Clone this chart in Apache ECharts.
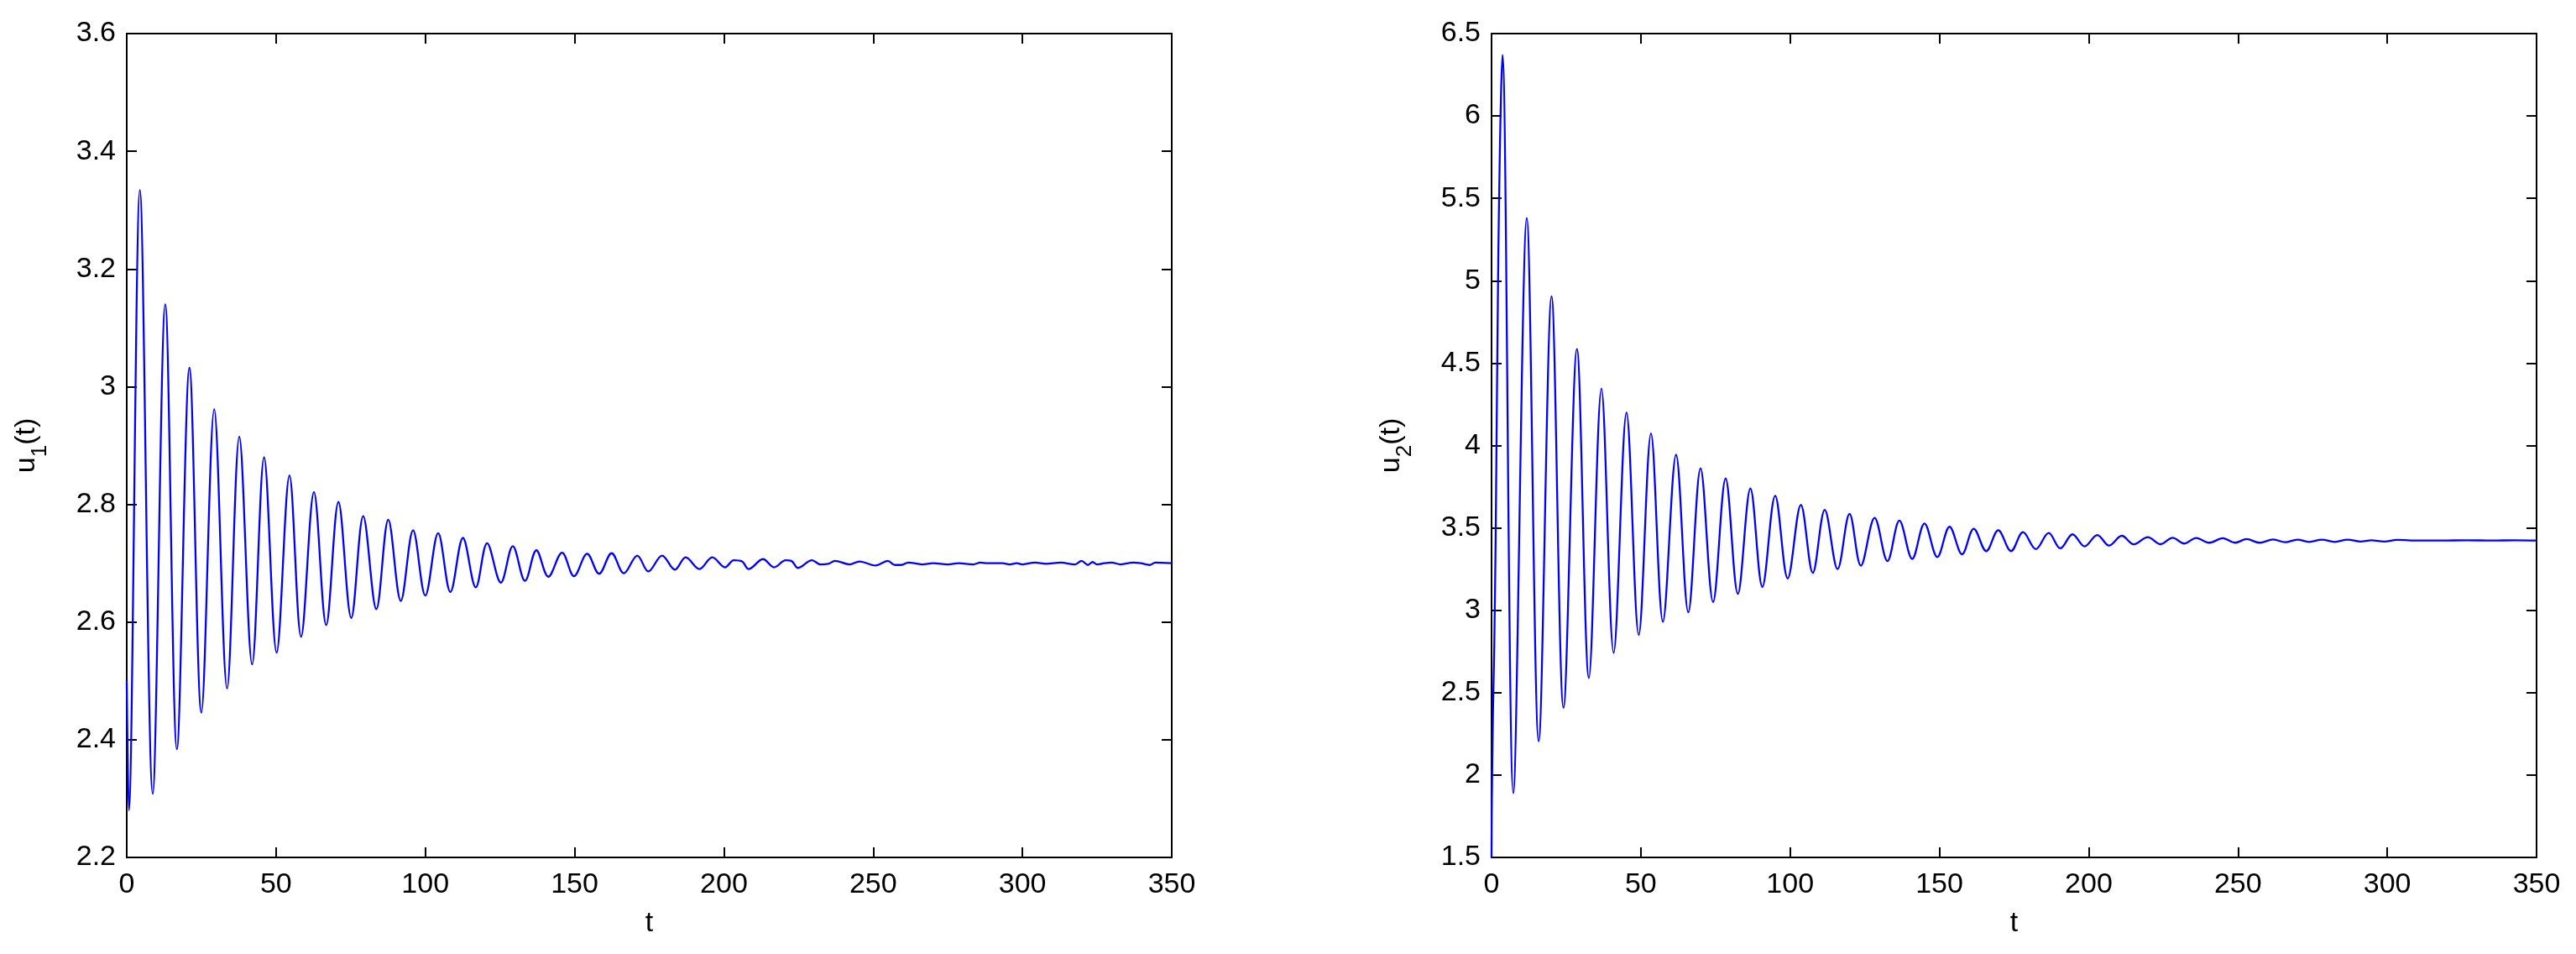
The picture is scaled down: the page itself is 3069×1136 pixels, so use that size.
<!DOCTYPE html>
<html>
<head>
<meta charset="utf-8">
<title>u1(t) / u2(t)</title>
<script src="https://cdn.jsdelivr.net/npm/echarts/dist/echarts.min.js"></script>
<style>
    html, body { margin: 0; padding: 0; background: #fff; }
    #main { width: 3069px; height: 1136px; }
</style>
</head>
<body>
<div id="main"></div>
<script>
// values: [t, u] at the turning points of the curve
var u1Points = [
    [0, 2.50], [0.7, 2.28], [4.4, 3.334], [8.7, 2.308], [12.9, 3.140], [16.8, 2.384],
    [21.0, 3.032], [25.0, 2.446], [29.3, 2.962], [33.6, 2.487], [37.7, 2.915], [42.0, 2.528],
    [46.0, 2.880], [50.2, 2.548], [54.5, 2.849], [58.4, 2.575], [62.7, 2.821], [66.8, 2.595],
    [70.9, 2.804], [75.2, 2.607], [79.2, 2.780], [83.6, 2.622], [87.6, 2.774], [91.8, 2.636],
    [95.9, 2.756], [100.0, 2.645], [104.3, 2.751], [108.4, 2.651], [112.6, 2.743], [116.9, 2.659],
    [120.7, 2.734], [125.3, 2.667], [129.3, 2.729], [133.4, 2.670], [137.2, 2.722], [141.2, 2.677],
    [145.8, 2.718], [149.8, 2.678], [154.2, 2.716], [158.2, 2.682], [162.4, 2.717], [166.5, 2.683],
    [171.0, 2.713], [174.7, 2.686], [179.3, 2.713], [183.6, 2.689], [187.2, 2.710], [191.8, 2.690],
    [196.1, 2.710], [200.4, 2.693], [203.3, 2.705], [206.1, 2.703], [208.3, 2.690], [213.1, 2.707],
    [216.8, 2.693], [220.7, 2.705], [222.6, 2.704], [224.8, 2.692], [229.5, 2.705], [232.3, 2.698],
    [235.0, 2.699], [237.2, 2.704], [242.1, 2.698], [245.4, 2.703], [250.8, 2.696], [254.9, 2.704],
    [257.3, 2.697], [259.4, 2.697], [261.8, 2.701], [266.4, 2.698], [270.1, 2.700], [275.0, 2.698],
    [278.6, 2.700], [283.5, 2.698], [285.9, 2.701], [288.4, 2.700], [293.3, 2.700], [295.7, 2.698],
    [298.1, 2.700], [300.0, 2.698], [304.2, 2.701], [307.9, 2.699], [312.8, 2.701], [317.6, 2.698],
    [319.8, 2.704], [321.9, 2.697], [323.5, 2.702], [325.0, 2.698], [327.4, 2.700], [329.8, 2.701],
    [332.9, 2.698], [337.1, 2.701], [339.6, 2.700], [342.6, 2.697], [344.5, 2.701], [350.0, 2.700]
];

var u2Points = [
    [0, 1.5], [0.1, 1.84], [0.46, 2.36], [0.91, 2.78], [1.37, 3.43], [1.83, 4.34], [2.29, 5.18],
    [2.74, 5.74], [3.2, 6.15], [3.66, 6.37], [7.3, 1.89], [11.8, 5.38], [15.8, 2.205],
    [20.1, 4.905], [24.1, 2.408], [28.6, 4.585], [32.6, 2.589], [36.8, 4.346], [40.9, 2.742],
    [45.2, 4.20], [49.3, 2.85], [53.4, 4.073], [57.4, 2.93], [61.8, 3.944], [65.9, 2.988],
    [70.0, 3.862], [74.2, 3.05], [78.4, 3.80], [82.5, 3.10], [86.7, 3.739], [90.7, 3.142],
    [95.0, 3.695], [99.2, 3.193], [103.6, 3.64], [107.6, 3.227], [111.6, 3.609], [115.9, 3.25],
    [119.9, 3.585], [123.7, 3.271], [128.3, 3.561], [132.6, 3.299], [136.6, 3.544], [140.9, 3.312],
    [145.0, 3.527], [149.3, 3.323], [153.4, 3.507], [157.6, 3.34], [161.5, 3.495], [165.7, 3.359],
    [169.7, 3.486], [174.0, 3.359], [178.0, 3.474], [182.3, 3.371], [186.6, 3.469], [190.5, 3.376],
    [194.6, 3.461], [198.6, 3.388], [202.9, 3.457], [206.8, 3.393], [211.1, 3.452], [215.1, 3.400],
    [219.8, 3.444], [224.1, 3.401], [228.1, 3.440], [232.0, 3.405], [236.0, 3.439], [240.4, 3.410],
    [244.9, 3.437], [249.0, 3.410], [252.9, 3.432], [257.2, 3.410], [261.8, 3.430], [265.8, 3.413],
    [269.9, 3.429], [273.8, 3.415], [278.1, 3.429], [282.4, 3.415], [286.7, 3.429], [291.0, 3.417],
    [294.7, 3.425], [299.0, 3.417], [303.3, 3.427], [310.7, 3.423], [318.1, 3.423], [326.7, 3.425],
    [335.3, 3.423], [342.7, 3.425], [350.0, 3.423]
];

// axis ranges: [min, max, interval]
var tRange = [0, 350, 50];
var u1Range = [2.2, 3.6, 0.2];
var u2Range = [1.5, 6.5, 0.5];

var FONT = "'Liberation Sans', Arial, Helvetica, sans-serif";
var black = '#000';

var chart = echarts.init(document.getElementById('main'), null, { renderer: 'canvas' });

// one axis of the box; labels only on bottom / left
function boxAxis(grid, pos, range, withLabel) {
    var ax = {
        type: 'value',
        gridIndex: grid,
        position: pos,
        min: range[0],
        max: range[1],
        interval: range[2],
        axisLine: { show: true, onZero: false, lineStyle: { color: black, width: 2 } },
        axisTick: { show: true, inside: true, length: 12, lineStyle: { color: black, width: 2 } },
        axisLabel: {
            show: withLabel,
            color: black,
            fontFamily: FONT,
            fontSize: 34,
            margin: (pos == 'bottom') ? 16 : 13
        },
        splitLine: { show: false }
    };
    return ax;
}

function yName(n) {
    return '{a|u}{s|' + n + '}{a|(t)}';
}
var yNameStyle = {
    color: black,
    fontFamily: FONT,
    rich: {
        a: { fontSize: 34, lineHeight: 34, fontFamily: FONT, color: black, verticalAlign: 'top' },
        s: { fontSize: 26, lineHeight: 26, fontFamily: FONT, color: black, verticalAlign: 'top', padding: [20, 0, 0, 0] }
    }
};

var xAxes = [];
var yAxes = [];
[0, 1].forEach(function (g) {
    var xb = boxAxis(g, 'bottom', tRange, true);
    xb.name = 't';
    xb.nameLocation = 'middle';
    xb.nameGap = 62;
    xb.nameTextStyle = { color: black, fontFamily: FONT, fontSize: 34 };
    xAxes.push(xb);
    xAxes.push(boxAxis(g, 'top', tRange, false));

    var yl = boxAxis(g, 'left', g == 0 ? u1Range : u2Range, true);
    yl.name = yName(g + 1);
    yl.nameLocation = 'middle';
    yl.nameRotate = 90;
    yl.nameGap = 102;
    yl.nameTextStyle = yNameStyle;
    yAxes.push(yl);
    yAxes.push(boxAxis(g, 'right', g == 0 ? u1Range : u2Range, false));
});

var lineStyle = { color: '#0000ff', width: 2.3 };

var option = {
    backgroundColor: '#fff',
    animation: false,
    grid: [
        { left: 151, top: 40, width: 1245, height: 981 },
        { left: 1777, top: 40, width: 1245, height: 981 }
    ],
    xAxis: xAxes,
    yAxis: yAxes,
    series: [
        {
            name: 'u1',
            type: 'line',
            xAxisIndex: 0,
            yAxisIndex: 0,
            data: u1Points,
            showSymbol: false,
            smooth: 0.35,
            lineStyle: lineStyle,
            itemStyle: { color: '#0000ff' }
        },
        {
            name: 'u2',
            type: 'line',
            xAxisIndex: 2,
            yAxisIndex: 2,
            data: u2Points,
            showSymbol: false,
            smooth: 0.35,
            lineStyle: lineStyle,
            itemStyle: { color: '#0000ff' }
        }
    ]
};
chart.setOption(option);
</script>
</body>
</html>
